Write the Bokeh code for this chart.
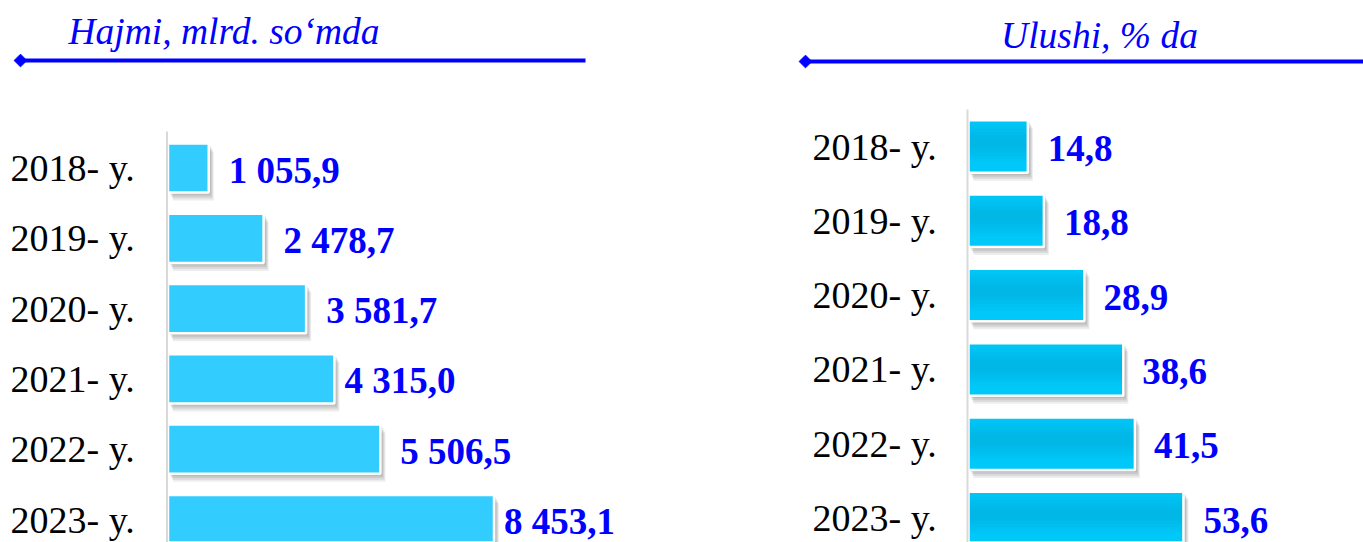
import math
from bokeh.plotting import figure
from bokeh.layouts import row
from bokeh.models import Range1d
from bokeh.core.properties import value
from bokeh.embed import file_html
from bokeh.resources import INLINE

# ---------------- data ----------------
years = ["2018- y.", "2019- y.", "2020- y.", "2021- y.", "2022- y.", "2023- y."]
volume = [1055.9, 2478.7, 3581.7, 4315.0, 5506.5, 8453.1]
volume_labels = ["1 055,9", "2 478,7", "3 581,7", "4 315,0", "5 506,5", "8 453,1"]
share = [14.8, 18.8, 28.9, 38.6, 41.5, 53.6]
share_labels = ["14,8", "18,8", "28,9", "38,6", "41,5", "53,6"]
title_left = "Hajmi, mlrd. so\u2018mda"
title_right = "Ulushi, % da"

# ---------------- styling / layout ----------------
FONT = value("Liberation Serif")
BLUE = "#0000FF"
H = 542


def panel(W, axis_px, unit_px, c0, pitch, bar_frac, axis_top, vals, labels,
          label_dx, year_x, title, title_x, title_align, title_base,
          line_x0, line_x1, line_y, gradient):
    px2x = lambda px: (px - axis_px) / unit_px
    px2y = lambda py: (py - c0) / pitch
    p = figure(width=W, height=H, toolbar_location=None, output_backend="svg",
               x_range=Range1d(px2x(0), px2x(W)),
               y_range=Range1d(px2y(H), px2y(0)),
               min_border=0, outline_line_color=None)
    p.xaxis.visible = False
    p.yaxis.visible = False
    p.grid.visible = False

    idx = list(range(len(vals)))
    # shadow
    for dx, dy, a in [(2, 2, 0.13), (3, 4, 0.13), (4, 6, 0.12), (5, 8, 0.10)]:
        p.hbar(y=[i + dy / pitch for i in idx], left=dx / unit_px,
               right=[v + dx / unit_px for v in vals], height=bar_frac,
               fill_color="#505050", fill_alpha=a, line_color=None)
    # bars
    if gradient:
        p.hbar(y=idx, left=0, right=vals, height=bar_frac, fill_color="#00C8F8",
               line_color=None)
        centre = -bar_frac / 2 + 0.42 * bar_frac
        for f in [0.95, 0.8, 0.65, 0.5, 0.36, 0.22]:
            p.hbar(y=[i + centre for i in idx], left=0, right=vals,
                   height=bar_frac * f * 0.8, fill_color="#0090C0",
                   fill_alpha=0.045, line_color=None)
        p.hbar(y=idx, left=0, right=vals, height=bar_frac, fill_color=None,
               line_color="white", line_width=2.5)
    else:
        p.hbar(y=idx, left=0, right=vals, height=bar_frac, fill_color="#33CCFF",
               line_color="white", line_width=2.5)
    # axis line
    p.segment(x0=[px2x(axis_px - 1)], x1=[px2x(axis_px - 1)],
              y0=[px2y(axis_top)], y1=[px2y(H + 5)],
              line_color="#D9D9D9", line_width=2)
    # year labels
    p.text(x=[px2x(year_x)] * len(idx), y=idx, text=years, text_font=FONT,
           text_font_size="38px", text_color="black",
           text_baseline="alphabetic", y_offset=0)
    # value labels
    p.text(x=[v + d / unit_px for v, d in zip(vals, label_dx)], y=idx, text=labels,
           text_font=FONT, text_font_style="bold", text_font_size="37px",
           text_color=BLUE, text_baseline="alphabetic", y_offset=2)
    # title line + diamond
    p.segment(x0=[px2x(line_x0)], x1=[px2x(line_x1)], y0=[px2y(line_y)],
              y1=[px2y(line_y)], line_color=BLUE, line_width=4)
    p.scatter(x=[px2x(line_x0)], y=[px2y(line_y)], marker="square", size=9,
              angle=math.pi / 4, fill_color=BLUE, line_color=BLUE)
    p.text(x=[px2x(title_x)], y=[px2y(title_base)], text=[title], text_font=FONT,
           text_font_style="italic", text_font_size="37.5px", text_color=BLUE,
           text_align=title_align, text_baseline="alphabetic")
    return p


left = panel(W=790, axis_px=167.5, unit_px=326 / 8453.1, c0=167.5, pitch=70.3,
             bar_frac=0.70, axis_top=131, vals=volume, labels=volume_labels,
             label_dx=[20, 20, 20, 10, 20, 10], year_x=10, title=title_left,
             title_x=68, title_align="left", title_base=31,
             line_x0=20, line_x1=585, line_y=60, gradient=False)

right = panel(W=573, axis_px=178, unit_px=4.01, c0=146, pitch=74.3,
              bar_frac=0.707, axis_top=109, vals=share, labels=share_labels,
              label_dx=[20, 20, 19, 19, 19, 20], year_x=22, title=title_right,
              title_x=309, title_align="center", title_base=35,
              line_x0=15, line_x1=580, line_y=61, gradient=True)

layout = row(left, right, spacing=0)
open("out.html", "w").write(file_html(layout, INLINE))
